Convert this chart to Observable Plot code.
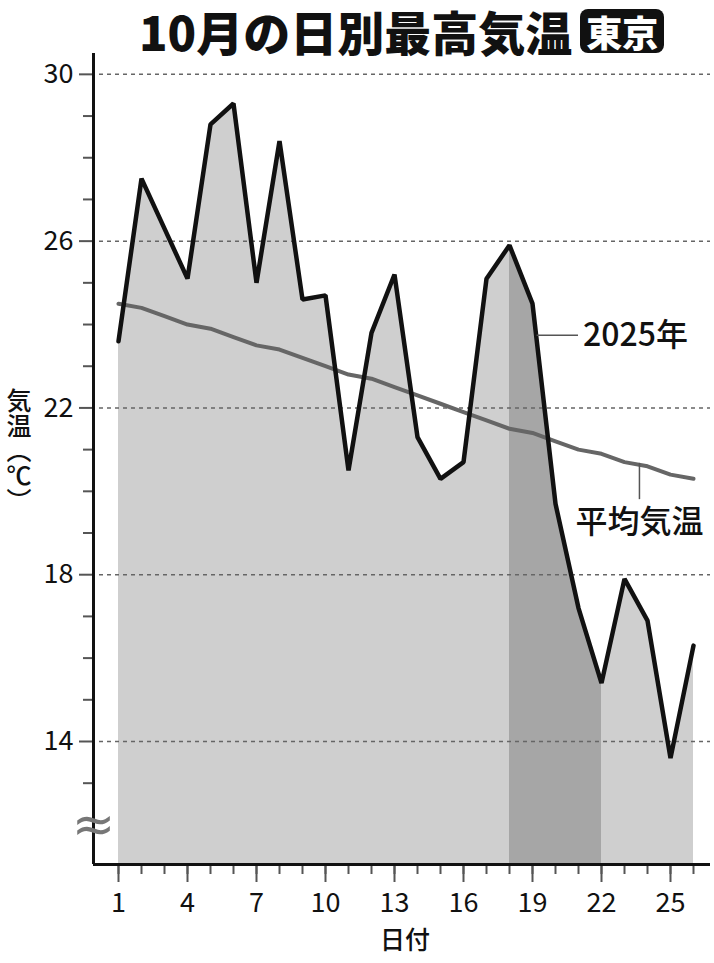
<!DOCTYPE html>
<html><head><meta charset="utf-8">
<script src="https://cdn.jsdelivr.net/npm/d3@7"></script>
<script src="https://cdn.jsdelivr.net/npm/@observablehq/plot@0.6"></script>
<style>
body{margin:0;background:#fff;}
#wrap{position:relative;width:714px;height:963px;overflow:hidden;}
#title{position:absolute;left:139px;top:6px;font-family:"Noto Sans CJK JP";font-weight:900;font-size:47px;line-height:50px;color:#111;white-space:nowrap;display:flex;align-items:center;}
#title .box{display:inline-block;margin-left:8px;background:#111;color:#fff;border-radius:8px;font-size:36px;line-height:44px;padding:0 6px;font-weight:900;}
#ylab{position:absolute;left:5px;top:388px;writing-mode:vertical-rl;font-family:"Noto Sans CJK JP";font-size:25px;font-weight:500;color:#111;line-height:28px;}
#chart{position:absolute;left:0;top:50px;}
</style></head>
<body>
<div id="wrap">
  <div id="chart"></div>
  <div id="title">10月の日別最高気温<span class="box">東京</span></div>
  <div id="ylab">気温（℃）</div>
</div>
<script>
// ---- data ----
const days = [1,2,3,4,5,6,7,8,9,10,11,12,13,14,15,16,17,18,19,20,21,22,23,24,25,26];
const temp2025 = [23.6,27.5,26.3,25.1,28.8,29.3,25.0,28.4,24.6,24.7,20.5,23.8,25.2,21.3,20.3,20.7,25.1,25.9,24.5,19.7,17.2,15.4,17.9,16.9,13.6,16.3];
const tempAvg = [24.5,24.4,24.2,24.0,23.9,23.7,23.5,23.4,23.2,23.0,22.8,22.7,22.5,22.3,22.1,21.9,21.7,21.5,21.4,21.2,21.0,20.9,20.7,20.6,20.4,20.3];
const highlightDays = [18, 22];
const yMajorTicks = [14,18,22,26,30];
const yMinorTicks = [13,15,16,17,19,20,21,23,24,25,27,28,29];
const xMajorTicks = [1,4,7,10,13,16,19,22,25];
const label2025 = "2025年";
const labelAvg = "平均気温";
const xLabel = "日付";

const rows = days.map((d,i)=>({day:d, t:temp2025[i], avg:tempAvg[i]}));
const yDomain = [11.05, 30.5];
const xDomain = [1 - 25/23, 26 + 17/23];
const font = "Noto Sans CJK JP";

const chart = Plot.plot({
  width: 714, height: 913,
  marginTop: 3, marginBottom: 99, marginLeft: 93, marginRight: 4,
  x: {domain: xDomain},
  y: {domain: yDomain},
  style: {fontFamily: font, background: "white", color: "#111"},
  marks: [
    Plot.areaY(rows, {x: "day", y1: yDomain[0], y2: "t", fill: "#cfcfcf"}),
    Plot.areaY(rows.filter(d => d.day >= highlightDays[0] && d.day <= highlightDays[1]), {x: "day", y1: yDomain[0], y2: "t", fill: "#a6a6a6"}),
    Plot.ruleY(yMajorTicks, {stroke: "#666", strokeWidth: 1.5, strokeDasharray: "4,4", insetLeft: 6}),
    Plot.axisY(yMinorTicks, {tickSize: 10, tickFormat: () => "", stroke: "#555", strokeWidth: 2, label: null}),
    Plot.axisY(yMajorTicks, {tickSize: 14, tickPadding: 6, fontSize: 27, stroke: "#555", strokeWidth: 2, fill: "#111", label: null}),
    Plot.axisX(days, {tickSize: 10, tickFormat: () => "", stroke: "#555", strokeWidth: 2, label: null}),
    Plot.axisX(xMajorTicks, {tickSize: 18, tickPadding: 10, fontSize: 27, stroke: "#555", strokeWidth: 2, fill: "#111", label: null}),
    Plot.text([xLabel], {frameAnchor: "bottom", text: d => d, dy: 84, dx: 3, fontSize: 25, fontWeight: 500, fill: "#111"}),
    Plot.line(rows, {x: "day", y: "avg", stroke: "#666", strokeWidth: 4}),
    Plot.line(rows, {x: "day", y: "t", stroke: "#111", strokeWidth: 4.5, strokeLinejoin: "miter"}),
    Plot.ruleX([xDomain[0]], {y1: yDomain[0], y2: yDomain[1], stroke: "#111", strokeWidth: 3}),
    Plot.ruleY([yDomain[0]], {stroke: "#111", strokeWidth: 3}),
    Plot.text(["≈"], {x: xDomain[0], y: 12.0, text: d => d, fontSize: 52, fill: "#777", fontFamily: "DejaVu Sans"}),
    // annotations
    Plot.ruleY([23.74], {x1: 19.2, x2: 21.0, stroke: "#555", strokeWidth: 1.5}),
    Plot.text([label2025], {x: 21.2, y: 23.74, text: d => d, textAnchor: "start", fontSize: 32, fontWeight: 500, fill: "#111"}),
    Plot.ruleX([23.65], {y1: 20.67, y2: 19.8, stroke: "#555", strokeWidth: 1.5}),
    Plot.text([labelAvg], {x: 23.65, y: 19.25, text: d => d, fontSize: 32, fontWeight: 500, fill: "#111"})
  ]
});
document.getElementById("chart").appendChild(chart);
</script>
</body></html>
